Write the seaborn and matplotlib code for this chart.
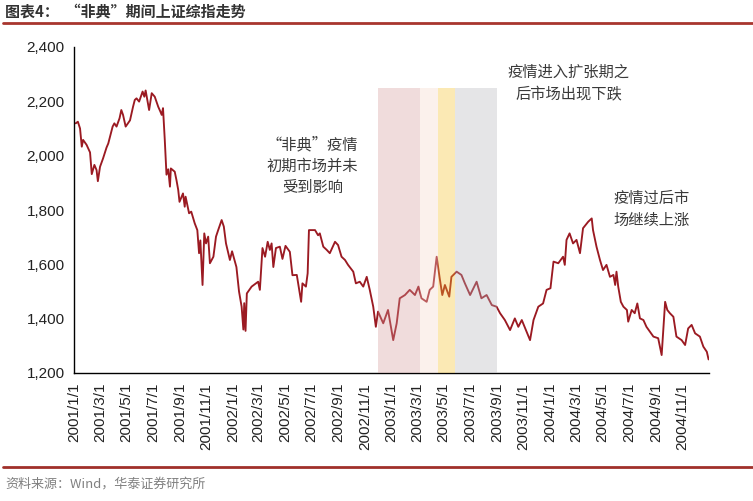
import matplotlib
matplotlib.use("Agg")
import matplotlib.pyplot as plt
from matplotlib.lines import Line2D
import seaborn as sns
import pandas as pd

# ---------------- data ----------------
dates = [
    "2001-01-04", "2001-01-09", "2001-01-14", "2001-01-18", "2001-01-21", "2001-01-29",
    "2001-02-06", "2001-02-10", "2001-02-16", "2001-02-21", "2001-02-24", "2001-03-01",
    "2001-03-08", "2001-03-16", "2001-03-20", "2001-03-24", "2001-03-30", "2001-04-03",
    "2001-04-08", "2001-04-15", "2001-04-19", "2001-04-23", "2001-04-29", "2001-05-09",
    "2001-05-16", "2001-05-20", "2001-05-24", "2001-05-30", "2001-06-07", "2001-06-11",
    "2001-06-14", "2001-06-22", "2001-06-28", "2001-07-05", "2001-07-13", "2001-07-18",
    "2001-07-21", "2001-07-24", "2001-07-28", "2001-08-01", "2001-08-05", "2001-08-09",
    "2001-08-11", "2001-08-20", "2001-08-24", "2001-08-28", "2001-08-31", "2001-09-08",
    "2001-09-12", "2001-09-14", "2001-09-22", "2001-09-27", "2001-10-05", "2001-10-11",
    "2001-10-15", "2001-10-18", "2001-10-23", "2001-10-27", "2001-10-31", "2001-11-05",
    "2001-11-09", "2001-11-17", "2001-11-23", "2001-11-28", "2001-12-06", "2001-12-11",
    "2001-12-16", "2001-12-25", "2001-12-30",
    "2002-01-09", "2002-01-15", "2002-01-21", "2002-01-25", "2002-01-27", "2002-01-30",
    "2002-02-02", "2002-02-13", "2002-02-28", "2002-03-04", "2002-03-10", "2002-03-16",
    "2002-03-22", "2002-03-27", "2002-03-31", "2002-04-04", "2002-04-10", "2002-04-19",
    "2002-04-25", "2002-05-02", "2002-05-12", "2002-05-18", "2002-05-28", "2002-06-07",
    "2002-06-10", "2002-06-18", "2002-06-22", "2002-06-25", "2002-07-09", "2002-07-16",
    "2002-07-20", "2002-07-28", "2002-08-05", "2002-08-12", "2002-08-24", "2002-08-31",
    "2002-09-08", "2002-09-16", "2002-09-23", "2002-10-05", "2002-10-11", "2002-10-20",
    "2002-10-28", "2002-11-05", "2002-11-12", "2002-11-20", "2002-11-26", "2002-12-01",
    "2002-12-13", "2002-12-24",
    "2003-01-05", "2003-01-13", "2003-01-20", "2003-02-01", "2003-02-12", "2003-02-24",
    "2003-03-04", "2003-03-11", "2003-03-23", "2003-03-30", "2003-04-07", "2003-04-15",
    "2003-04-22", "2003-04-28", "2003-05-04", "2003-05-14", "2003-05-19", "2003-05-31",
    "2003-06-11", "2003-06-19", "2003-07-01", "2003-07-16", "2003-07-27", "2003-08-08",
    "2003-08-20", "2003-08-31", "2003-09-08", "2003-09-19", "2003-10-01", "2003-10-12",
    "2003-10-20", "2003-10-28", "2003-11-08", "2003-11-16", "2003-11-24", "2003-12-05",
    "2003-12-16", "2003-12-24",
    "2004-01-02", "2004-01-09", "2004-01-20", "2004-01-31", "2004-02-04", "2004-02-08",
    "2004-02-15", "2004-02-23", "2004-03-02", "2004-03-10", "2004-03-17", "2004-03-29",
    "2004-04-06", "2004-04-09", "2004-04-17", "2004-04-25", "2004-05-02", "2004-05-10",
    "2004-05-18", "2004-05-26", "2004-05-30", "2004-06-02", "2004-06-06", "2004-06-12",
    "2004-06-18", "2004-06-26", "2004-06-29", "2004-07-07", "2004-07-14", "2004-07-20",
    "2004-07-26", "2004-08-03", "2004-08-10", "2004-08-18", "2004-08-26", "2004-09-06",
    "2004-09-14", "2004-09-22", "2004-09-27", "2004-10-03", "2004-10-11", "2004-10-18",
    "2004-10-30", "2004-11-07", "2004-11-14", "2004-11-22", "2004-11-30", "2004-12-11",
    "2004-12-19", "2004-12-27", "2004-12-31",
]
index_values = [
    2119, 2125, 2100, 2033, 2058, 2040,
    2012, 1932, 1966, 1947, 1906, 1959,
    1990, 2030, 2045, 2070, 2107, 2119,
    2107, 2138, 2168, 2150, 2107, 2130,
    2180, 2205, 2211, 2199, 2236, 2217,
    2240, 2168, 2230, 2217, 2180, 2162,
    2150, 2175, 2060, 1930, 1950, 1886,
    1953, 1941, 1910, 1874, 1830, 1861,
    1812, 1849, 1788, 1794, 1751, 1726,
    1641, 1688, 1524, 1714, 1677, 1702,
    1604, 1628, 1702, 1726, 1763, 1739,
    1677, 1616, 1648,
    1590, 1500, 1444, 1360, 1457, 1355,
    1493, 1518, 1536, 1506, 1660, 1628,
    1683, 1653, 1677, 1590, 1660, 1665,
    1620, 1668, 1646, 1560, 1561, 1462,
    1530, 1518, 1567, 1726, 1726, 1707,
    1714, 1665, 1653, 1641, 1683, 1671,
    1628, 1616, 1598, 1573, 1530, 1536,
    1518, 1554, 1506, 1444, 1370, 1426,
    1383, 1432,
    1321, 1383, 1475, 1487, 1506, 1487,
    1518, 1475, 1462, 1506, 1518, 1628,
    1549, 1487, 1524, 1481, 1554, 1573,
    1561, 1530, 1487, 1536, 1475, 1487,
    1450, 1444, 1420, 1395, 1358, 1401,
    1370, 1395, 1352, 1321, 1395, 1444,
    1456, 1506,
    1512, 1610, 1604, 1628, 1598, 1690,
    1714, 1677, 1690, 1641, 1733, 1757,
    1769, 1726, 1665, 1616, 1579, 1598,
    1554, 1561, 1524, 1573, 1518, 1462,
    1444, 1432, 1389, 1432, 1420, 1456,
    1401, 1395, 1370, 1352, 1334, 1328,
    1266, 1462, 1432, 1420, 1407, 1334,
    1321, 1303, 1364, 1377, 1346, 1334,
    1297, 1278, 1250,
]

tick_dates = [
    "2001-01-01", "2001-03-01", "2001-05-01", "2001-07-01", "2001-09-01", "2001-11-01",
    "2002-01-01", "2002-03-01", "2002-05-01", "2002-07-01", "2002-09-01", "2002-11-01",
    "2003-01-01", "2003-03-01", "2003-05-01", "2003-07-01", "2003-09-01", "2003-11-01",
    "2004-01-01", "2004-03-01", "2004-05-01", "2004-07-01", "2004-09-01", "2004-11-01",
    "2005-01-01",
]
tick_labels = [
    "2001/1/1", "2001/3/1", "2001/5/1", "2001/7/1", "2001/9/1", "2001/11/1",
    "2002/1/1", "2002/3/1", "2002/5/1", "2002/7/1", "2002/9/1", "2002/11/1",
    "2003/1/1", "2003/3/1", "2003/5/1", "2003/7/1", "2003/9/1", "2003/11/1",
    "2004/1/1", "2004/3/1", "2004/5/1", "2004/7/1", "2004/9/1", "2004/11/1",
    "",
]
y_ticks = [1200, 1400, 1600, 1800, 2000, 2200, 2400]

period_starts = ["2002-12-01", "2003-03-07", "2003-04-17", "2003-05-28"]
period_ends = ["2003-03-07", "2003-04-17", "2003-05-28", "2003-09-01"]
period_top = 2250

title = "图表4：  “非典”期间上证综指走势"
source = "资料来源：Wind，华泰证券研究所"
note_early = "“非典”疫情\n初期市场并未\n受到影响"
note_mid = "疫情进入扩张期之\n后市场出现下跌"
note_after = "疫情过后市\n场继续上涨"

# ---------------- style ----------------
sns.set_theme(style="white")
plt.rcParams["font.family"] = ["Liberation Sans", "Noto Sans CJK SC", "DejaVu Sans"]
CJK = ["Noto Sans CJK SC", "DejaVu Sans"]
period_colors = ["#d49b9b", "#f6d7c9", "#f6c029", "#b5b5bd"]
period_alpha = 0.35
line_color = "#9b1a22"

W, H = 753, 501
fig = plt.figure(figsize=(W / 100, H / 100), dpi=100)
fig.patch.set_facecolor("white")
ax = fig.add_axes([74.4 / W, 1 - 373 / H, (709 - 74.4) / W, (373 - 47) / H])

df = pd.DataFrame({"date": pd.to_datetime(dates), "value": index_values})
sns.lineplot(data=df, x="date", y="value", ax=ax, color=line_color,
             linewidth=1.35, zorder=2)

ymin, ymax = y_ticks[0], y_ticks[-1]
for s, e, c in zip(period_starts, period_ends, period_colors):
    ax.axvspan(pd.Timestamp(s), pd.Timestamp(e), ymin=0,
               ymax=(period_top - ymin) / (ymax - ymin),
               color=c, alpha=period_alpha, lw=0, zorder=3)

ax.set_xlim(pd.Timestamp(tick_dates[0]), pd.Timestamp(tick_dates[-1]))
ax.set_ylim(ymin, ymax)
ax.set_yticks(y_ticks)
ax.set_yticklabels([f"{v:,}" for v in y_ticks])
ax.set_xticks(pd.to_datetime(tick_dates))
ax.set_xticklabels(tick_labels, rotation=90, va="top", ha="center")
ax.set_xlabel("")
ax.set_ylabel("")
ax.grid(False)
for side in ["top", "right"]:
    ax.spines[side].set_visible(False)
for side in ["left", "bottom"]:
    ax.spines[side].set_color("black")
    ax.spines[side].set_linewidth(1.0)
ax.tick_params(axis="both", direction="out", length=4, width=1, color="black",
               labelsize=11, labelcolor="#222222", pad=3)

# annotations
txt_kw = dict(ha="center", va="top", family=CJK, fontsize=11, color="#3a3a3a",
              linespacing=1.35, multialignment="center")
fig.text(312.5 / W, 1 - 136 / H, note_early, **txt_kw)
fig.text(569 / W, 1 - 64 / H, note_mid, **txt_kw)
fig.text(652 / W, 1 - 190 / H, note_after, **txt_kw)

# title, rules and source
fig.text(5 / W, 1 - 12 / H, title, family=CJK, fontsize=10.8, fontweight="bold",
         color="#333333", va="center", ha="left")
fig.add_artist(Line2D([3 / W, 1], [1 - 22.5 / H, 1 - 22.5 / H], color="#a8352e",
                      lw=2, transform=fig.transFigure))
fig.add_artist(Line2D([3 / W, 1], [1 - 467 / H, 1 - 467 / H], color="#a0302a",
                      lw=2, transform=fig.transFigure))
fig.text(5 / W, 1 - 484 / H, source, family=CJK, fontsize=9.4, color="#808080",
         va="center", ha="left")

fig.savefig("out.png", dpi=100, facecolor="white")
